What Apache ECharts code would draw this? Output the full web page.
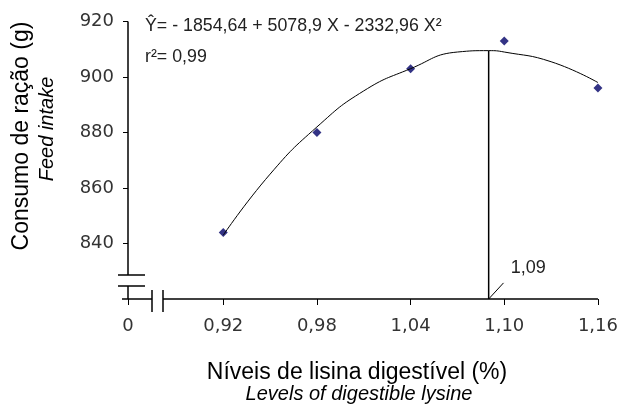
<!DOCTYPE html>
<html>
<head>
<meta charset="utf-8">
<script src="https://cdn.jsdelivr.net/npm/echarts@6/dist/echarts.min.js"></script>
<style>
  html, body { margin: 0; padding: 0; background: #fff; }
  #main { width: 621px; height: 408px; }
</style>
</head>
<body>
<div id="main"></div>
<script>
// níveis de lisina digestível (%)
var niveis = [0.92, 0.98, 1.04, 1.10, 1.16];
// consumo de ração observado (g)
var consumo = [844, 880, 903, 913, 896];
// curva ajustada
var curvaX = [0.92, 0.95, 0.98, 1.01, 1.04, 1.07, 1.09, 1.10, 1.13, 1.16];
var curvaY = [843, 865, 882, 895, 903, 909, 909.5, 909, 905.5, 898];
// marcas dos eixos
var xTicks = [0.92, 0.98, 1.04, 1.10, 1.16];
var yTicks = [840, 860, 880, 900, 920];
var xZero = 0.859;      // onde fica o "0" antes da quebra
var yBase = 820;        // base do eixo y (quebrado)
var yTop = 920;
var pontoOtimo = 1.09;
var consumoOtimo = 909.5;

var font = "'Liberation Sans', Arial, sans-serif";
var fontTick = "'DejaVu Sans', sans-serif";
var chart = echarts.init(document.getElementById('main'));

chart.setOption({
  animation: false,
  grid: { left: 128, right: 23, top: 21.5, bottom: 109 },
  xAxis: {
    type: 'value',
    min: xZero,
    max: 1.16,
    axisLine: { show: false },
    splitLine: { show: false },
    axisTick: {
      show: true,
      length: 6,
      customValues: [xZero].concat(xTicks),
      lineStyle: { color: '#000' }
    },
    axisLabel: {
      customValues: [xZero].concat(xTicks),
      margin: 18,
      fontSize: 18,
      fontFamily: fontTick,
      color: '#333',
      formatter: function (v) {
        if (v < 0.9) return '0';
        return v.toFixed(2).replace('.', ',');
      }
    }
  },
  yAxis: {
    type: 'value',
    min: yBase,
    max: yTop,
    axisLine: { show: false },
    splitLine: { show: false },
    axisTick: {
      show: true,
      length: 5,
      customValues: yTicks,
      lineStyle: { color: '#000' }
    },
    axisLabel: {
      customValues: yTicks,
      margin: 14,
      fontSize: 18,
      fontFamily: fontTick,
      color: '#333'
    }
  },
  series: [
    {
      name: 'curva',
      type: 'line',
      smooth: true,
      showSymbol: false,
      lineStyle: { color: '#000', width: 1 },
      data: curvaX.map(function (x, i) { return [x, curvaY[i]]; })
    },
    {
      name: 'otimo',
      type: 'line',
      showSymbol: false,
      lineStyle: { color: '#000', width: 1.5 },
      data: [[pontoOtimo, yBase], [pontoOtimo, consumoOtimo]]
    },
    {
      name: 'rotulo',
      type: 'line',
      showSymbol: false,
      lineStyle: { color: '#000', width: 1 },
      data: [[pontoOtimo, yBase], [pontoOtimo + 0.0095, yBase + 5.8]]
    },
    {
      name: 'observado',
      type: 'scatter',
      symbol: 'diamond',
      symbolSize: 9,
      itemStyle: { color: '#000066' },
      data: niveis.map(function (x, i) { return [x, consumo[i]]; })
    }
  ]
});

// eixos com quebras, desenhados à mão
function px(x, y) { return chart.convertToPixel({ gridIndex: 0 }, [x, y]); }
var o = px(xZero, yBase);
var t = px(xZero, yTop);
var r = px(1.16, yBase);
var p = px(pontoOtimo, yBase);
var ln = function (x1, y1, x2, y2, w) {
  return { type: 'line', shape: { x1: x1, y1: y1, x2: x2, y2: y2 }, style: { stroke: '#000', lineWidth: w || 1.5 } };
};
var gapY1 = o[1] - 24, gapY2 = o[1] - 13;
var gapX1 = o[0] + 24, gapX2 = o[0] + 35;

chart.setOption({
  graphic: [
    ln(o[0], t[1], o[0], gapY1),
    ln(o[0], gapY2, o[0], o[1]),
    ln(o[0] - 10, gapY1, o[0] + 17, gapY1),
    ln(o[0] - 10, gapY2, o[0] + 17, gapY2),
    ln(o[0] - 6, o[1], gapX1, o[1]),
    ln(gapX2, o[1], r[0], o[1]),
    ln(gapX1, o[1] - 9, gapX1, o[1] + 13),
    ln(gapX2, o[1] - 9, gapX2, o[1] + 13),
    {
      type: 'text', x: p[0] + 22, y: p[1] - 31,
      style: { text: '1,09', font: '18px ' + font, fill: '#222', verticalAlign: 'middle' }
    },
    {
      type: 'text', left: 145, top: 17,
      style: { text: 'Ŷ= - 1854,64 + 5078,9 X - 2332,96 X²', font: '17.8px ' + font, fill: '#222' }
    },
    {
      type: 'text', left: 145, top: 48,
      style: { text: 'r²= 0,99', font: '17.8px ' + font, fill: '#222' }
    },
    {
      type: 'text', x: 22, y: 136, rotation: Math.PI / 2,
      style: { text: 'Consumo de ração (g)', font: '23px ' + font, fill: '#000', align: 'center', verticalAlign: 'middle' }
    },
    {
      type: 'text', x: 47, y: 129, rotation: Math.PI / 2,
      style: { text: 'Feed intake', font: 'italic 20px ' + font, fill: '#000', align: 'center', verticalAlign: 'middle' }
    },
    {
      type: 'text', x: 357, y: 373,
      style: { text: 'Níveis de lisina digestível (%)', font: '23px ' + font, fill: '#000', align: 'center', verticalAlign: 'middle' }
    },
    {
      type: 'text', x: 359, y: 394,
      style: { text: 'Levels of digestible lysine', font: 'italic 20px ' + font, fill: '#000', align: 'center', verticalAlign: 'middle' }
    }
  ]
});
</script>
</body>
</html>
